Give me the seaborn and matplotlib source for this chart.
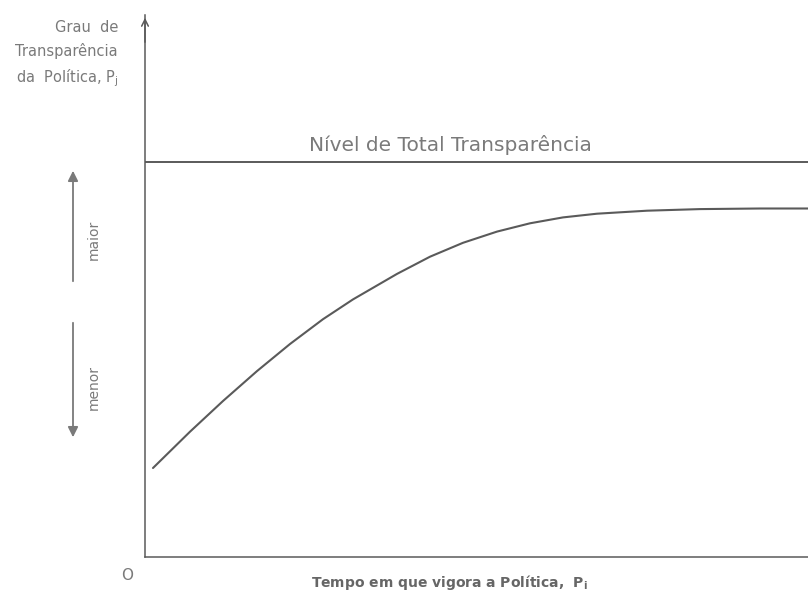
import matplotlib
matplotlib.use('Agg')
import matplotlib.pyplot as plt
import seaborn as sns
import pandas as pd

# curve (time vs degree of transparency, arbitrary units)
tempo = [8, 45, 78, 112, 145, 178, 208, 252, 285, 318, 352, 385, 418, 452, 502, 555, 615, 663]
transparencia = [89, 125.3, 156, 185.9, 213, 237.8, 257.6, 283.1, 300.3, 314.2, 325.4,
                 333.7, 339.6, 343.3, 346.3, 347.9, 348.5, 348.5]
nivel_total = 395
x_max = 663
y_max = 542

sns.set_theme(style='white')
plt.rcParams['font.family'] = ['DejaVu Sans']

ink = '#5a5a5a'
txt = '#7a7a7a'

fig = plt.figure(figsize=(8.08, 6), dpi=100)
ax = fig.add_axes([145 / 808, 43 / 600, 663 / 808, 542 / 600])

df = pd.DataFrame({'tempo': tempo, 'transparencia': transparencia})
sns.lineplot(data=df, x='tempo', y='transparencia', ax=ax, color=ink, lw=1.5,
             solid_joinstyle='round')
sns.lineplot(x=[0, x_max], y=[nivel_total, nivel_total], ax=ax, color=ink, lw=1.4)

ax.set_xlim(0, x_max)
ax.set_ylim(0, y_max)
ax.set_xticks([])
ax.set_yticks([])
ax.set_xlabel('')
ax.set_ylabel('')
for s in ['top', 'right']:
    ax.spines[s].set_visible(False)
for s in ['left', 'bottom']:
    ax.spines[s].set_color(ink)
    ax.spines[s].set_linewidth(1.1)

# arrow head on the vertical axis
ax.annotate('', xy=(0, y_max), xytext=(0, y_max - 30),
            arrowprops=dict(arrowstyle='->', color=ink, lw=1.1), annotation_clip=False)

def fx(px):
    return px / 808

def fy(py):
    return 1 - py / 600

# y-axis title
fig.text(fx(118), fy(27), 'Grau  de', ha='right', va='center', fontsize=10.5, color=txt)
fig.text(fx(118), fy(51), 'Transparência', ha='right', va='center', fontsize=10.5, color=txt)
fig.text(fx(118), fy(78), r'da  Política, P$_\mathregular{j}$', ha='right', va='center',
         fontsize=10.5, color=txt)

ax.text(305, nivel_total + 17, 'Nível de Total Transparência', ha='center', va='center',
        fontsize=14.5, color=txt)

# maior / menor arrows
fig.add_artist(matplotlib.patches.FancyArrowPatch(
    (fx(73), fy(284)), (fx(73), fy(168)), transform=fig.transFigure,
    arrowstyle='-|>,head_length=6,head_width=3', color=txt, lw=1.3))
fig.add_artist(matplotlib.patches.FancyArrowPatch(
    (fx(73), fy(320)), (fx(73), fy(440)), transform=fig.transFigure,
    arrowstyle='-|>,head_length=6,head_width=3', color=txt, lw=1.3))
fig.text(fx(94), fy(240), 'maior', rotation=90, ha='center', va='center', fontsize=10, color=txt)
fig.text(fx(94), fy(388), 'menor', rotation=90, ha='center', va='center', fontsize=10, color=txt)

fig.text(fx(127), fy(576), 'O', ha='center', va='center', fontsize=11, color=txt)
fig.text(fx(449), fy(583), r'Tempo em que vigora a Política,  P$_\mathregular{i}$', ha='center',
         va='center', fontsize=10, fontweight='bold', color='#666666')

fig.savefig('out.png', dpi=100, facecolor='white')
